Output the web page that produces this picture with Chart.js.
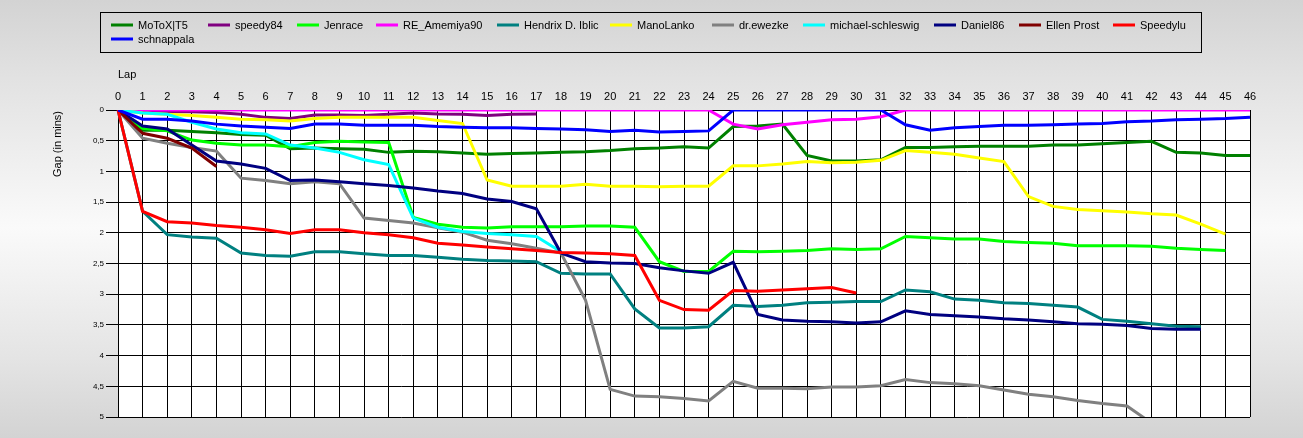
<!DOCTYPE html>
<html><head><meta charset="utf-8">
<script src="https://cdn.jsdelivr.net/npm/chart.js@4.4.0/dist/chart.umd.min.js"></script>
<style>
html,body{margin:0;padding:0;background:#d3d3d3;}
#wrap{width:1303px;height:438px;position:relative;background:linear-gradient(to bottom,#d3d3d3 0%,#e2e2e2 18%,#fafafa 52%,#e4e4e4 82%,#d3d3d3 100%);}
canvas{display:block;}
</style></head><body>
<div id="wrap"><canvas id="c" width="1303" height="438"></canvas></div>
<script>
const laps = ['0','1','2','3','4','5','6','7','8','9','10','11','12','13','14','15','16','17','18','19','20','21','22','23','24','25','26','27','28','29','30','31','32','33','34','35','36','37','38','39','40','41','42','43','44','45','46'];

const motox = [0,0.33,0.33,0.35,0.37,0.40,0.41,0.63,0.62,0.63,0.64,0.69,0.67,0.68,0.70,0.72,0.71,0.70,0.69,0.68,0.66,0.63,0.62,0.60,0.62,0.27,0.26,0.23,0.74,0.83,0.83,0.81,0.61,0.61,0.60,0.59,0.59,0.59,0.57,0.57,0.55,0.53,0.51,0.69,0.70,0.74,0.74];
const speedy84 = [0,0.02,0.03,0.03,0.04,0.07,0.12,0.14,0.08,0.08,0.09,0.07,0.05,0.065,0.07,0.09,0.07,0.065];
const jenrace = [0,0.30,0.34,0.49,0.54,0.57,0.57,0.60,0.53,0.51,0.52,0.53,1.75,1.86,1.91,1.92,1.90,1.90,1.90,1.89,1.89,1.91,2.47,2.63,2.63,2.30,2.31,2.30,2.29,2.26,2.27,2.26,2.06,2.08,2.10,2.10,2.14,2.16,2.17,2.21,2.21,2.21,2.22,2.25,2.27,2.29];
const amemiya = [0,0,0,0,0,0,0,0,0,0,0,0,0,0,0,0,0,0,0,0,0,0,0,0,0,0.23,0.31,0.24,0.20,0.16,0.15,0.11,0,0,0,0,0,0,0,0,0,0,0,0,0,0,0];
const hendrix = [0,1.65,2.03,2.07,2.09,2.33,2.37,2.38,2.31,2.31,2.34,2.37,2.37,2.40,2.43,2.45,2.46,2.47,2.66,2.67,2.67,3.24,3.55,3.55,3.53,3.18,3.20,3.18,3.14,3.13,3.12,3.12,2.93,2.96,3.08,3.10,3.14,3.15,3.18,3.21,3.41,3.44,3.48,3.52,3.53];
const manolanko = [0,0.05,0.07,0.09,0.12,0.15,0.16,0.18,0.14,0.12,0.12,0.12,0.12,0.17,0.22,1.14,1.24,1.24,1.24,1.21,1.24,1.24,1.25,1.24,1.24,0.91,0.91,0.88,0.84,0.86,0.85,0.82,0.66,0.69,0.72,0.78,0.84,1.41,1.57,1.62,1.64,1.66,1.69,1.71,1.86,2.02];
const ewezke = [0,0.46,0.54,0.61,0.67,1.11,1.15,1.20,1.17,1.20,1.76,1.80,1.84,1.92,1.99,2.12,2.18,2.25,2.33,3.10,4.55,4.66,4.67,4.70,4.74,4.42,4.53,4.53,4.54,4.51,4.51,4.49,4.39,4.44,4.46,4.49,4.56,4.63,4.67,4.73,4.78,4.82,5.10];
const michael = [0,0.05,0.07,0.20,0.31,0.37,0.39,0.57,0.62,0.69,0.81,0.89,1.76,1.91,1.98,2.01,2.03,2.06,2.31];
const daniel86 = [0,0.26,0.31,0.57,0.83,0.88,0.95,1.15,1.14,1.17,1.20,1.23,1.27,1.32,1.36,1.45,1.49,1.61,2.33,2.47,2.49,2.50,2.57,2.62,2.66,2.48,3.33,3.42,3.44,3.45,3.47,3.45,3.27,3.33,3.35,3.37,3.40,3.42,3.45,3.48,3.49,3.51,3.56,3.57,3.57];
const ellen = [0,0.38,0.46,0.62,0.92];
const speedylu = [0,1.65,1.82,1.84,1.88,1.91,1.95,2.01,1.95,1.95,2.00,2.03,2.08,2.17,2.20,2.23,2.26,2.29,2.32,2.33,2.34,2.37,3.10,3.25,3.26,2.94,2.95,2.93,2.91,2.89,2.98];
const schnappala = [0,0.15,0.15,0.18,0.23,0.26,0.28,0.30,0.23,0.23,0.25,0.25,0.25,0.27,0.28,0.29,0.29,0.30,0.31,0.32,0.35,0.33,0.36,0.35,0.34,0,0,0,0,0,0,0,0.24,0.33,0.29,0.27,0.25,0.25,0.24,0.23,0.22,0.19,0.18,0.16,0.15,0.14,0.12];

const names = ['MoToX|T5','speedy84','Jenrace','RE_Amemiya90','Hendrix D. Iblic','ManoLanko','dr.ewezke','michael-schleswig','Daniel86','Ellen Prost','Speedylu','schnappala'];
const values = [motox,speedy84,jenrace,amemiya,hendrix,manolanko,ewezke,michael,daniel86,ellen,speedylu,schnappala];
const colors = ['#008000','#800080','#00ff00','#ff00ff','#008080','#ffff00','#808080','#00ffff','#000080','#800000','#ff0000','#0000ff'];
const yTicks = ['0','0,5','1','1,5','2','2,5','3','3,5','4','4,5','5'];

const FONT = '"Liberation Sans", Arial, sans-serif';

const plotBg = {
  id:'plotBg',
  beforeDraw(chart){
    const {ctx, chartArea:a} = chart;
    ctx.save(); ctx.fillStyle='#ffffff';
    ctx.fillRect(a.left, a.top, a.right-a.left, a.bottom-a.top);
    ctx.restore();
  }
};

const extras = {
  id:'extras',
  afterDraw(chart){
    const ctx = chart.ctx;
    ctx.save();
    ctx.font = '11px ' + FONT;
    ctx.fillStyle = '#000';
    ctx.translate(58, 177);
    ctx.rotate(-Math.PI/2);
    ctx.textAlign = 'left'; ctx.textBaseline = 'middle';
    ctx.fillText('Gap (in mins)', 0, 0);
    ctx.restore();

    ctx.save();
    ctx.strokeStyle = '#000'; ctx.lineWidth = 1;
    ctx.strokeRect(100.5, 12.5, 1101, 40);
    const slots = [[111,0],[208,0],[297,0],[376,0],[497,0],[610,0],[712,0],[803,0],[934,0],[1019,0],[1113,0],[111,1]];
    const rowY = [25, 39];
    ctx.font = '11px ' + FONT;
    ctx.textBaseline = 'middle'; ctx.textAlign = 'left';
    chart.data.datasets.forEach((ds, i) => {
      const [x, r] = slots[i];
      const y = rowY[r];
      ctx.strokeStyle = ds.borderColor; ctx.lineWidth = 3;
      ctx.beginPath(); ctx.moveTo(x, y); ctx.lineTo(x+22, y); ctx.stroke();
      ctx.fillStyle = '#000';
      ctx.fillText(ds.label, x+27, y+0.5);
    });
    ctx.restore();
  }
};

new Chart(document.getElementById('c'), {
  type:'line',
  data:{
    labels: laps,
    datasets: names.map((n,i)=>({
      label:n, data:values[i], borderColor:colors[i], backgroundColor:colors[i],
      borderWidth:3, pointRadius:0, pointHoverRadius:0, tension:0, fill:false, order:-i
    }))
  },
  options:{
    responsive:false, animation:false, devicePixelRatio:1,
    layout:{padding:{top:58,left:0,right:53,bottom:21}},
    plugins:{legend:{display:false}, tooltip:{enabled:false}},
    scales:{
      x:{
        position:'top', offset:false,
        grid:{color:'#000', lineWidth:1, drawTicks:false},
        border:{color:'#000', width:1},
        ticks:{color:'#000', font:{family:FONT,size:11}, padding:6, maxRotation:0, autoSkip:false},
        title:{display:true, text:'Lap', align:'start', color:'#000', font:{family:FONT,size:11}, padding:{top:10,bottom:0}},
        afterFit(s){ s.height = 52; }
      },
      y:{
        reverse:true, min:0, max:5,
        ticks:{stepSize:0.5, color:'#000', font:{family:FONT,size:8}, padding:2,
          callback:(v)=>yTicks[Math.round(v*2)]},
        grid:{color:'#000', lineWidth:1, tickLength:12},
        border:{color:'#000', width:1},
        afterFit(s){ s.width = 118; }
      }
    }
  },
  plugins:[plotBg, extras]
});
</script>
</body></html>
